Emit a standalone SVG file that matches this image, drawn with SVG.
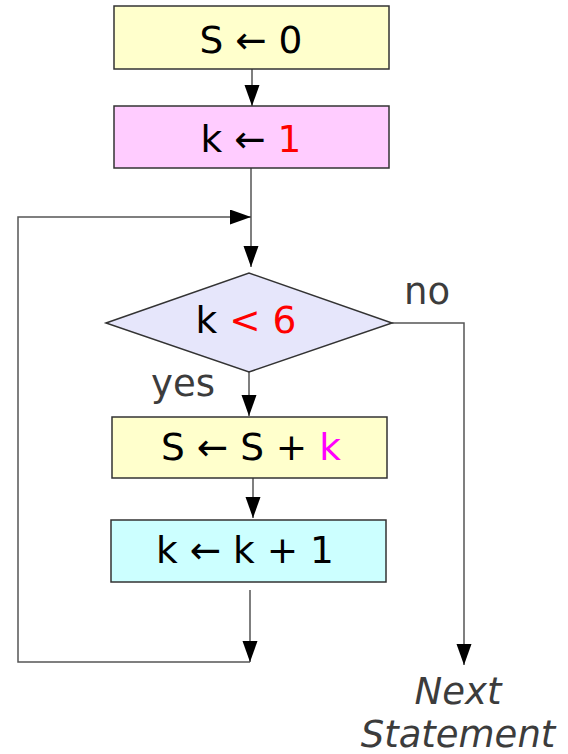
<svg xmlns="http://www.w3.org/2000/svg" width="568" height="754" viewBox="0 0 568 754">
<style>
.box{stroke:#333;stroke-width:1.5}
.t{font-family:"DejaVu Sans",sans-serif;font-size:37.5px;fill:#000;text-anchor:middle}
.lbl{font-family:"DejaVu Sans",sans-serif;font-size:37px;fill:#3c3c3c}
.c{fill:none;stroke:#555;stroke-width:1.5}
.red{fill:#ff0000}
.mag{fill:#ff00ff}
</style>
<defs>
<marker id="ah" markerUnits="userSpaceOnUse" markerWidth="22" markerHeight="16" refX="21" refY="7.5" orient="auto" viewBox="0 0 22 16">
<path d="M0,0 L21,7.5 L0,15 z" fill="#000"/>
</marker>
</defs>
<g id="connectors">
<line class="c" x1="252" y1="69" x2="252" y2="106" marker-end="url(#ah)"/>
<line class="c" x1="251" y1="168" x2="251" y2="267" marker-end="url(#ah)"/>
<polyline class="c" points="250,662 18,662 18,217 251,217" marker-end="url(#ah)"/>
<line class="c" x1="249" y1="372" x2="249" y2="416" marker-end="url(#ah)"/>
<polyline class="c" points="392,323 464,323 464,665" marker-end="url(#ah)"/>
<line class="c" x1="253" y1="478" x2="253" y2="518" marker-end="url(#ah)"/>
<line class="c" x1="250" y1="590" x2="250" y2="662" marker-end="url(#ah)"/>
</g>
<g id="init_s">
<rect class="box" x="114" y="6" width="275" height="63" fill="#ffffcc"/>
<text class="t" x="251" y="53">S ← 0</text>
</g>
<g id="init_k">
<rect class="box" x="114" y="106" width="275" height="62" fill="#ffccff"/>
<text class="t" x="251" y="152">k ← <tspan class="red">1</tspan></text>
</g>
<g id="cond">
<polygon class="box" points="106,323 249,273 392,323 249,372" fill="#e6e6fb" stroke-width="1.2"/>
<text class="t" x="246" y="333">k <tspan class="red">&lt; 6</tspan></text>
</g>
<g id="label_no"><text class="lbl" x="404" y="304">no</text></g>
<g id="label_yes"><text class="lbl" x="151" y="396">yes</text></g>
<g id="add">
<rect class="box" x="112" y="417" width="275" height="61" fill="#ffffcc"/>
<text class="t" x="251" y="460">S ← S + <tspan class="mag">k</tspan></text>
</g>
<g id="inc">
<rect class="box" x="111" y="520" width="275" height="62" fill="#ccffff"/>
<text class="t" x="245" y="563">k ← k + 1</text>
</g>
<g id="next">
<text class="lbl" x="458" y="704" text-anchor="middle" font-style="italic" font-size="38.5">Next</text>
<text class="lbl" x="458" y="747" text-anchor="middle" font-style="italic" font-size="38.5">Statement</text>
</g>
</svg>
